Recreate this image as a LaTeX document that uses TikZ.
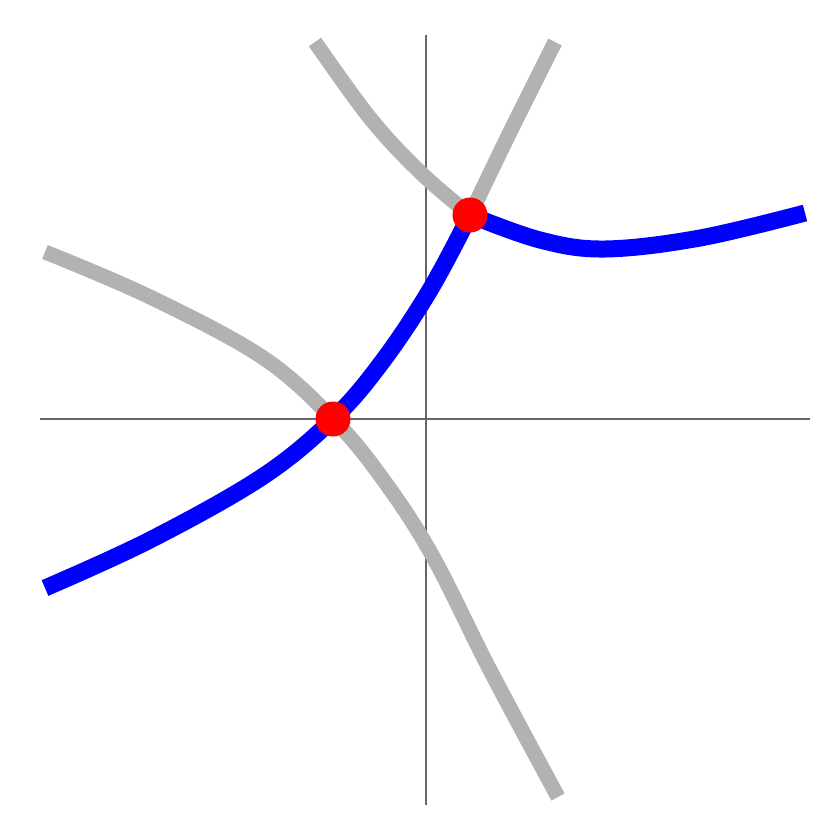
\documentclass[tikz,border=0pt]{standalone}
\begin{document}
\begin{tikzpicture}[x=1pt,y=-1pt,
  axis/.style={draw=black!60,line width=2.2pt},
  graycurve/.style={draw=black!30,line width=15pt},
  bluecurve/.style={draw=blue,line width=17pt},
  dot/.style={circle,fill=red,minimum size=35pt,inner sep=0pt}]
\useasboundingbox (0,0) rectangle (830,830);
\draw[axis] (40,419) -- (810,419);
\draw[axis] (426,35) -- (426,805);
\draw[graycurve] plot[smooth,tension=0.6] coordinates {(315,42) (370,118) (420,172) (470,215)};
\draw[graycurve] plot[smooth,tension=0.6] coordinates {(555,42) (512,128) (470,215)};
\draw[graycurve] plot[smooth,tension=0.6] coordinates {(45,252) (150,297) (262,357) (333,419) (382,478) (432,555) (490,670) (558,797)};
\draw[bluecurve] plot[smooth,tension=0.6] coordinates {(45,588) (150,540) (262,477) (333,419) (382,362) (430,290) (470,215)};
\draw[bluecurve] plot[smooth,tension=0.6] coordinates {(470,215) (540,240) (605,249) (700,238) (805,213)};
\node[dot] (p1) at (333,419) {};
\node[dot] (p2) at (470,215) {};
\end{tikzpicture}
\end{document}
